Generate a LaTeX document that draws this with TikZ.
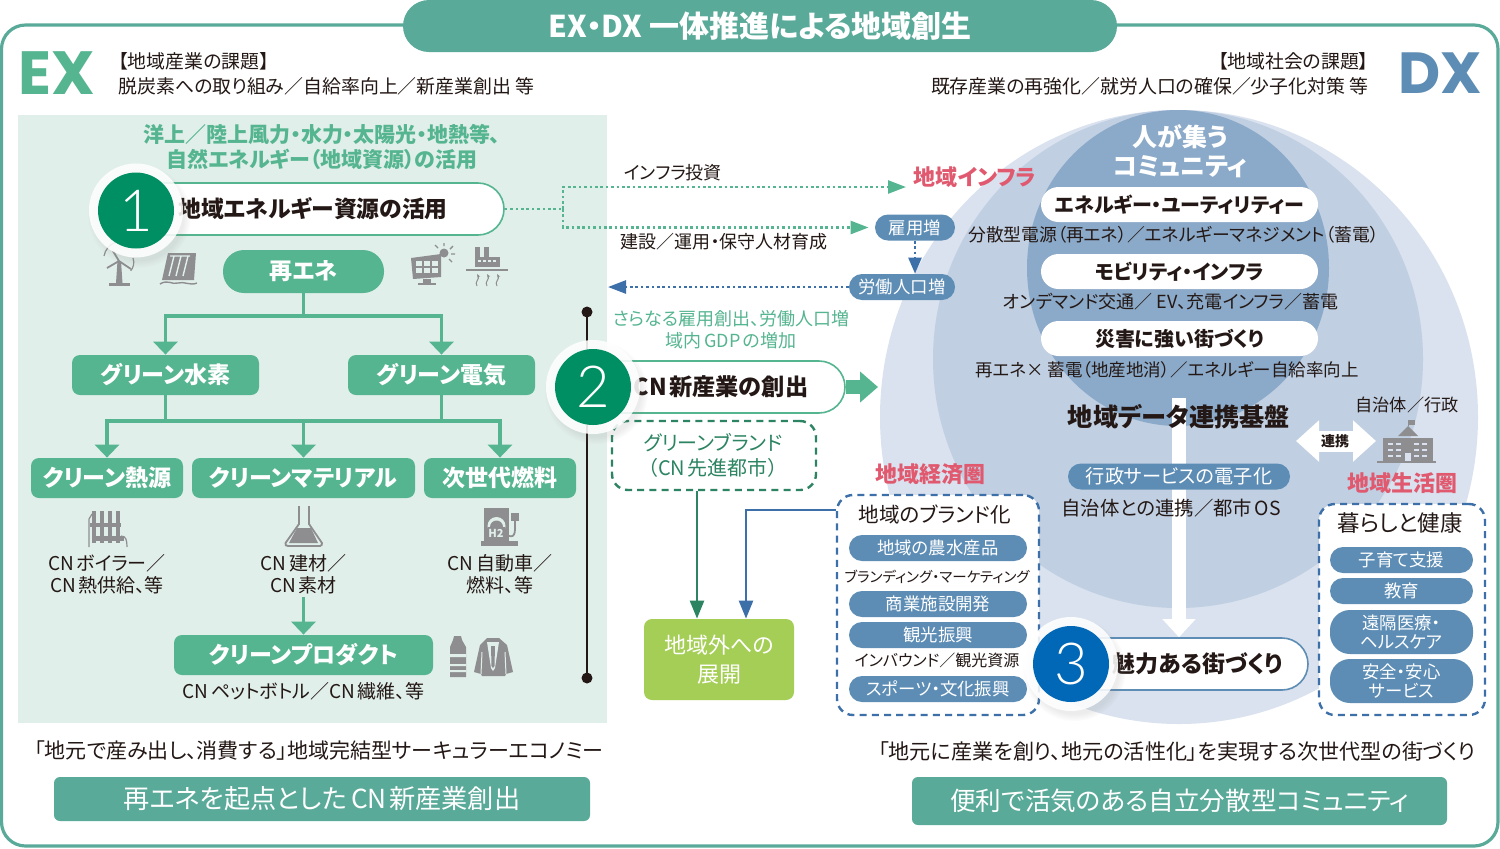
\documentclass[tikz,border=0pt]{standalone}
\usepackage{fontspec}
\setmainfont{Noto Sans CJK JP}[RawFeature=+palt]
\newfontfamily\numfont{Lato Light}
\newfontfamily\capfont{Poppins}
\usepackage{tikz}
\usetikzlibrary{arrows.meta,shadows,calc}
\definecolor{teal1}{HTML}{5AAA9A}
\definecolor{green1}{HTML}{55B590}
\definecolor{green2}{HTML}{008F62}
\definecolor{green3}{HTML}{2C8462}
\definecolor{panel1}{HTML}{E1EFEA}
\definecolor{blue1}{HTML}{5D8DB5}
\definecolor{blue2}{HTML}{0068B7}
\definecolor{blue3}{HTML}{3D6FA8}
\definecolor{ring1}{HTML}{D9E2EE}
\definecolor{ring2}{HTML}{C0CFE2}
\definecolor{ring3}{HTML}{8BA9C8}
\definecolor{pink1}{HTML}{E0596F}
\definecolor{lime1}{HTML}{A4CE55}
\definecolor{icon1}{HTML}{8E8E90}
\definecolor{ink1}{HTML}{231815}
\newcommand{\cngap}{\hspace{1.2pt}}
\tikzset{
	tx/.style 2 args={inner sep=0pt,align=center,text=ink1,font=\fontsize{#1}{#2}\selectfont},
	txb/.style 2 args={inner sep=0pt,align=center,text=ink1,font=\fontsize{#1}{#2}\selectfont\bfseries},
	greenbox/.style={fill=green1,rounded corners=4pt,minimum height=20pt,inner sep=0pt,text=white,font=\fontsize{11.5}{13}\selectfont\bfseries},
	bluepill/.style={fill=blue1,rounded corners=6.5pt,minimum height=13pt,inner sep=0pt,align=center,text=white,font=\fontsize{8.7}{9.5}\selectfont},
	whitepill/.style={fill=white,rounded corners=8.75pt,minimum width=138.5pt,minimum height=17.5pt,inner sep=0pt,text=ink1,font=\fontsize{10}{12}\selectfont\bfseries},
	mainpill/.style={draw=#1,line width=.8pt,fill=white,rounded corners=13pt,minimum height=26pt,inner sep=0pt},
	halo/.style={circle,fill=white,fill opacity=.87,minimum size=47pt,inner sep=0pt,circular drop shadow={shadow xshift=1.5pt,shadow yshift=-2.5pt,opacity=.15}},
	numdot/.style={circle,fill=#1,minimum size=38pt,inner sep=0pt,text=white,font=\numfont\fontsize{29}{29}\selectfont},
	dashbox/.style={draw=#1,line width=1.2pt,dash pattern=on 3.5pt off 2.6pt,rounded corners=8pt,fill=white,inner sep=0pt},
	treeline/.style={draw=green1,line width=1.8pt},
	treearrow/.style={treeline,-{Triangle[length=6.5pt,width=12pt]}},
	dotgreen/.style={draw=green1,line width=1.3pt,dash pattern=on 1.3pt off 1.4pt},
	dotblue/.style={draw=blue3,line width=1.3pt,dash pattern=on 1.3pt off 1.4pt},
	icn/.style={fill=icon1,draw=none}
}
\begin{document}
\begin{tikzpicture}[x=0.5pt,y=-0.5pt]
	\useasboundingbox (0,0) rectangle (1500,848);
	\draw[teal1,line width=1.6pt,rounded corners=12pt,fill=white] (1.5,25) rectangle (1498,846);
	\node[fill=teal1,rounded corners=13pt,minimum width=357pt,minimum height=26pt,inner sep=0pt,text=white,font=\fontsize{15}{17}\selectfont\bfseries] (title) at (760,26) {EX・DX 一体推進による地域創生};

	\node[inner sep=0pt,text=green1,font=\capfont\fontsize{30.5}{31}\selectfont\bfseries] (ex) at (57,73) {EX};
	\node[inner sep=0pt,text=blue1,font=\capfont\fontsize{29}{30}\selectfont\bfseries] (dx) at (1440,73) {DX};
	\node[tx={9.45}{12.5},align=left,anchor=north west] (leftissue) at (118,52) {【地域産業の課題】\\脱炭素への取り組み／自給率向上／新産業創出 等};
	\node[tx={9.45}{12.5},align=right,anchor=north east] (rightissue) at (1369,52) {【地域社会の課題】\\既存産業の再強化／就労人口の確保／少子化対策 等};

	\fill[panel1] (18,115) rectangle (607,723);
	\fill[ring1] (1179,417) ellipse [x radius=299,y radius=307];
	\fill[ring2] (1178,359) ellipse [x radius=245,y radius=249];
	\fill[ring3] (1178,268) ellipse [x radius=151,y radius=158];

	\node[txb={10.5}{12.5},text=green1] (source) at (322,147) {洋上／陸上風力・水力・太陽光・地熱等、\\自然エネルギー（地域資源）の活用};
	\node[mainpill=green1,minimum width=187pt] (pillone) at (317,209) {};
	\node[txb={11.4}{14}] (pillonetext) at (313,209) {地域エネルギー資源の活用};
	\node[greenbox,rounded corners=10.5pt,minimum width=80.5pt,minimum height=21.5pt] (saiene) at (303.5,271.5) {再エネ};
	\node[greenbox,minimum width=93.5pt] (suiso) at (165.5,375) {グリーン水素};
	\node[greenbox,minimum width=93.5pt] (denki) at (441.5,375) {グリーン電気};
	\node[greenbox,minimum width=76pt] (netsu) at (107,478) {クリーン熱源};
	\node[greenbox,minimum width=111.5pt] (material) at (303.5,478) {クリーンマテリアル};
	\node[greenbox,minimum width=76pt] (fuel) at (500,478) {次世代燃料};
	\node[greenbox,minimum width=129.5pt] (product) at (303.5,655) {クリーンプロダクト};

	\coordinate (treeA) at (303.5,316);
	\coordinate (treeB) at (303.5,421);
	\draw[treeline] (saiene.south) -- (treeA);
	\draw[treearrow] (treeA) -| (suiso.north);
	\draw[treearrow] (treeA) -| (denki.north);
	\draw[treeline] (suiso.south) |- (treeB);
	\draw[treeline] (denki.south) |- (treeB);
	\draw[treearrow] (treeB) -| (netsu.north);
	\draw[treearrow] (treeB) -- (material.north);
	\draw[treearrow] (treeB) -| (fuel.north);

	\node[tx={9.5}{11}] (netsutext) at (107,574) {CN\cngap ボイラー／\\CN\cngap 熱供給、等};
	\node[tx={9.5}{11}] (materialtext) at (303.5,574) {CN\cngap 建材／\\CN\cngap 素材};
	\node[tx={9.5}{11}] (fueltext) at (500,574) {CN\cngap 自動車／\\燃料、等};
	\node[tx={9.5}{11}] (producttext) at (303.5,691) {CN\cngap ペットボトル／CN\cngap 繊維、等};
	\coordinate (prodtop) at (303.5,597);
	\draw[treearrow] (prodtop) -- (product.north);

	% icons
	\fill[icn] (117.5,261) -- (121,261) -- (122.5,283) -- (116,283) -- cycle;
	\fill[icn] (109,283) rectangle (130,286);
	\draw[icon1,line width=.9pt] (119,261) -- (113,251) (119,261) -- (131,269) (119,261) -- (107,268);
	\draw[icon1,line width=.6pt] (104,256) arc [start angle=190,end angle=250,radius=18] (133,258) arc [start angle=-20,end angle=40,radius=13];
	\fill[icn] (168,253) -- (196,253) -- (194,280) -- (162,280) -- cycle;
	\draw[panel1,line width=.7pt] (174,256) -- (169,276) (181,256) -- (176,276) (188,256) -- (183,276) (170,256) -- (190,256);
	\draw[icon1,line width=.7pt] (160,284) .. controls (168,279) and (172,285) .. (178,283) .. controls (184,281) and (190,286) .. (197,283);

	\fill[icn] (411,258) -- (441,254) -- (441,277) -- (413,279) -- cycle;
	\foreach \i in {416,424,432} \foreach \j in {261,268}
		\fill[panel1] (\i,\j) rectangle ++(6,5);
	\fill[icn] (423,279) rectangle (431,283);
	\fill[icn] (418,283) rectangle (436,285);
	\fill[icn] (444,253) circle [radius=4.5];
	\draw[icon1,line width=.7pt] (444,246) -- (444,243) (450,249) -- (453,246) (451,254) -- (455,254) (449,259) -- (452,262) (438,248) -- (435,245);

	\fill[icn] (475,247) rectangle (480,258);
	\fill[icn] (484,247) rectangle (489,258);
	\fill[icn] (475,257) rectangle (500,267);
	\foreach \i in {478,483,488,493}
		\fill[panel1] (\i,260) rectangle ++(3,2);
	\fill[icn] (466,269) rectangle (508,271);
	\foreach \i in {477,487,497}
		\draw[icon1,line width=.5pt,-{Stealth[length=2pt]}] (\i,286) .. controls (\i-3,282) and (\i+3,279) .. (\i,274);

	\foreach \i in {92,100,108,116}
		\fill[icn] (\i,511) rectangle ++(3.5,32);
	\fill[icn] (90,523) rectangle (121,527);
	\fill[icn] (94,536) rectangle (124,541);
	\draw[icon1,line width=.6pt] (89,547) -- (89,519) -- (92,514) (121,536) .. controls (126,536) and (127,540) .. (127,547);

	\draw[icon1,line width=.9pt,fill=panel1] (299,506) -- (299,524) -- (285.5,543) .. controls (285,545) and (286,546) .. (288,546) -- (320,546) .. controls (322,546) and (322,544) .. (322,543) -- (309,524) -- (309,506);
	\fill[icn] (297,528) -- (311,528) -- (318,543) -- (289,543) -- cycle;

	\fill[icn] (484,508) rectangle (509,541);
	\fill[icn] (481,541) rectangle (518,546);
	\fill[panel1] (496.5,526) circle [radius=9];
	\fill[icn] (496.5,527) circle [radius=6.5];
	\fill[icn] (488,527) rectangle (505,537);
	\node[inner sep=0pt,text=panel1,font=\fontsize{5.5}{6}\selectfont\bfseries] (hydrogen) at (496,533) {H2};
	\draw[icon1,line width=.9pt] (509,536) .. controls (516,538) and (515,530) .. (515,520);
	\fill[icn] (511,513) rectangle (519,521);

	\fill[icn] (453,640) -- (454,636) -- (461,636) -- (462,640) -- (466,647) -- (466,677) -- (450,677) -- (450,647) -- cycle;
	\fill[panel1] (450,654) rectangle (466,657) (450,664) rectangle (466,666) (450,670) rectangle (466,672);
	\fill[icn] (487,638) -- (499,638) -- (507,645) -- (513,672) -- (506,674) -- (505,676) -- (482,676) -- (481,674) -- (474,672) -- (480,645) -- cycle;
	\draw[panel1,line width=.5pt] (482,652) -- (481,674) (505,652) -- (506,674);
	\fill[panel1] (487,642) -- (499,642) -- (495,668) -- (493,671) -- (491,668) -- cycle;
	\fill[icn] (491,646) -- (495,646) -- (494.5,666) -- (493,668) -- (491.5,666) -- cycle;

	\draw[line width=.9pt,ink1] (587,312) -- (587,678);
	\node[circle,fill=ink1,minimum size=5.5pt,inner sep=0pt] (bartop) at (587,312) {};
	\node[circle,fill=ink1,minimum size=5.5pt,inner sep=0pt] (barend) at (587,678) {};

	\node[txb={11}{13},text=pink1] (infra) at (975,177) {地域インフラ};
	\node[bluepill,minimum width=40pt] (jobs) at (915,227.5) {雇用増};
	\node[bluepill,minimum width=53pt] (labor) at (902,287) {労働人口増};
	\coordinate (branch) at (563,209);
	\coordinate (infraend) at (906,187);
	\coordinate (laborend) at (608,287);
	\draw[dotgreen] (pillone.east) -- (branch);
	\draw[dotgreen,-{Triangle[length=9pt,width=6.5pt]}] (branch) |- (infraend);
	\draw[dotgreen,-{Triangle[length=9pt,width=6.5pt]},shorten >=3pt] (branch) |- (jobs.west);
	\draw[dotblue,-{Triangle[length=9pt,width=6.5pt]}] (labor.west) -- (laborend);
	\draw[dotblue,-{Triangle[length=8pt,width=6.5pt]}] (jobs.south) -- (jobs.south |- labor.north);
	\node[tx={9}{10}] (invest) at (673,173) {インフラ投資};
	\node[tx={9}{10}] (training) at (724,242) {建設／運用・保守人材育成};
	\node[tx={9}{11},text=green1] (gdp) at (731,330) {さらなる雇用創出、労働人口増\\域内\cngap GDP\cngap の増加};

	\node[mainpill=green1,minimum width=127.5pt] (pilltwo) at (717.5,387) {};
	\node[txb={11.6}{14}] (pilltwotext) at (721,387) {CN\cngap 新産業の創出};
	\coordinate (bigtip) at (878,387);
	\draw[green1,line width=7pt,-{Triangle[length=9pt,width=15pt]}] (pilltwo.east) -- (bigtip);
	\node[dashbox=green3,minimum width=102pt,minimum height=34.5pt,text=green3] (greenbrand) at (714,455.5) {};
	\node[tx={10}{12.5},text=green3] (greenbrandtext) at (713,455.5) {グリーンブランド\\（CN\cngap 先進都市）};
	\node[fill=lime1,rounded corners=4pt,minimum width=75pt,minimum height=40.5pt,inner sep=0pt,align=center,text=white,font=\fontsize{11}{14.5}\selectfont] (outside) at (719,659.5) {地域外への\\展開};
	\draw[green3,line width=1.2pt,-{Triangle[length=9pt,width=7pt]}] (greenbrand.south -| 697,0) -- (outside.north -| 697,0);

	\node[txb={11}{12},text=pink1] (economy) at (930,474) {地域経済圏};
	\node[dashbox=blue3,minimum width=101pt,minimum height=110pt] (brand) at (938,605) {};
	\coordinate (brandout) at (836,510);
	\draw[blue3,line width=1.2pt,-{Triangle[length=9pt,width=7pt]}] (brandout) -| (outside.north -| 746,0);
	\node[tx={10.3}{12}] (brandhead) at (935,514) {地域のブランド化};
	\node[bluepill,minimum width=89pt] (farm) at (938,548) {地域の農水産品};
	\node[tx={7.25}{10}] (marketing) at (937,577) {ブランディング・マーケティング};
	\node[bluepill,minimum width=89pt] (shop) at (938,604) {商業施設開発};
	\node[bluepill,minimum width=89pt] (tourism) at (938,635) {観光振興};
	\node[tx={8}{10}] (inbound) at (937,660) {インバウンド／観光資源};
	\node[bluepill,minimum width=89pt] (sports) at (938,689) {スポーツ・文化振興};

	\node[inner sep=0pt,align=center,text=white,font=\fontsize{12.5}{14.5}\selectfont\bfseries] (people) at (1180,151) {人が集う\\コミュニティ};
	\node[whitepill] (energy) at (1179.5,204.5) {エネルギー・ユーティリティー};
	\node[tx={8.9}{11}] (energytext) at (1173.5,235) {分散型電源（再エネ）／エネルギーマネジメント（蓄電）};
	\node[whitepill] (mobility) at (1179.5,271.5) {モビリティ・インフラ};
	\node[tx={9}{11}] (mobilitytext) at (1171,302) {オンデマンド交通／ EV、充電インフラ／蓄電};
	\node[whitepill] (disaster) at (1179.5,338.5) {災害に強い街づくり};
	\node[tx={8.75}{11}] (disastertext) at (1167,370) {再エネ× 蓄電（地産地消）／エネルギー自給率向上};

	\node[mainpill=blue1,minimum width=134pt] (pillthree) at (1174,664) {};
	\node[txb={11.5}{13}] (pillthreetext) at (1198,664) {魅力ある街づくり};
	\coordinate (datatop) at (1179,398);
	\draw[white,line width=7pt,-{Triangle[length=9pt,width=16pt]}] (datatop) -- (pillthree.north -| datatop);
	\node[txb={12.6}{14}] (dataplat) at (1179,417) {地域データ連携基盤};
	\node[bluepill,minimum width=111pt,font=\fontsize{9.6}{10}\selectfont] (egov) at (1179,476.5) {行政サービスの電子化};
	\node[tx={9.7}{11}] (egovtext) at (1171,508) {自治体との連携／都市\cngap OS};

	\node[tx={8.6}{10}] (govlabel) at (1407,405) {自治体／行政};
	\coordinate (linkL) at (1296,441);
	\coordinate (linkR) at (1376,441);
	\draw[white,line width=10.5pt,{Triangle[length=11.5pt,width=20pt]}-{Triangle[length=11.5pt,width=20pt]}] (linkL) -- (linkR);
	\node[txb={7}{8}] (linktext) at (1335,441) {連携};
	\fill[icn] (1383,438) rectangle (1433,461);
	\fill[icn] (1398,436) -- (1408,426) -- (1418,436) -- cycle;
	\fill[icn] (1377,461) rectangle (1436,463);
	\draw[icon1,line width=.5pt] (1408,426) -- (1408,420);
	\fill[icn] (1408,420) rectangle (1415,425);
	\foreach \i in {1388,1396,1414,1422} \foreach \j in {443,449,455}
		\fill[ring1] (\i,\j) rectangle ++(5,2);
	\fill[ring1] (1405,453) rectangle (1411,461);

	\node[txb={11}{13},text=pink1] (living) at (1402,483) {地域生活圏};
	\node[dashbox=blue3,minimum width=83pt,minimum height=105.5pt] (life) at (1402,609.5) {};
	\node[tx={11.2}{12}] (lifehead) at (1400,523) {暮らしと健康};
	\node[bluepill,minimum width=71.5pt] (child) at (1401.5,560) {子育て支援};
	\node[bluepill,minimum width=71.5pt] (edu) at (1401.5,591) {教育};
	\node[bluepill,minimum width=71.5pt,minimum height=22pt,rounded corners=10pt] (remote) at (1401.5,632) {遠隔医療・\\ヘルスケア};
	\node[bluepill,minimum width=71.5pt,minimum height=22pt,rounded corners=10pt] (safety) at (1401.5,681) {安全・安心\\サービス};

	\node[halo] (haloone) at (136,210.5) {};
	\node[numdot=green2] (numone) at (136,210.5) {1};
	\node[halo] (halotwo) at (593,387) {};
	\node[numdot=green2] (numtwo) at (593,387) {2};
	\node[halo] (halothree) at (1071,664) {};
	\node[numdot=blue2] (numthree) at (1071,664) {3};

	\node[tx={10.5}{12}] (leftfoot) at (319,751) {「地元で産み出し、消費する」地域完結型サーキュラーエコノミー};
	\node[tx={10.55}{12}] (rightfoot) at (1177,751) {「地元に産業を創り、地元の活性化」を実現する次世代型の街づくり};
	\node[fill=teal1,rounded corners=3pt,minimum width=268pt,minimum height=22pt,inner sep=0pt,text=white,font=\fontsize{13.1}{15}\selectfont] (leftbar) at (322,799) {再エネを起点とした\,CN\cngap 新産業創出};
	\node[fill=teal1,rounded corners=3pt,minimum width=267.5pt,minimum height=24pt,inner sep=0pt,text=white,font=\fontsize{12.8}{15}\selectfont] (rightbar) at (1179.5,801) {便利で活気のある自立分散型コミュニティ};
\end{tikzpicture}
\end{document}
